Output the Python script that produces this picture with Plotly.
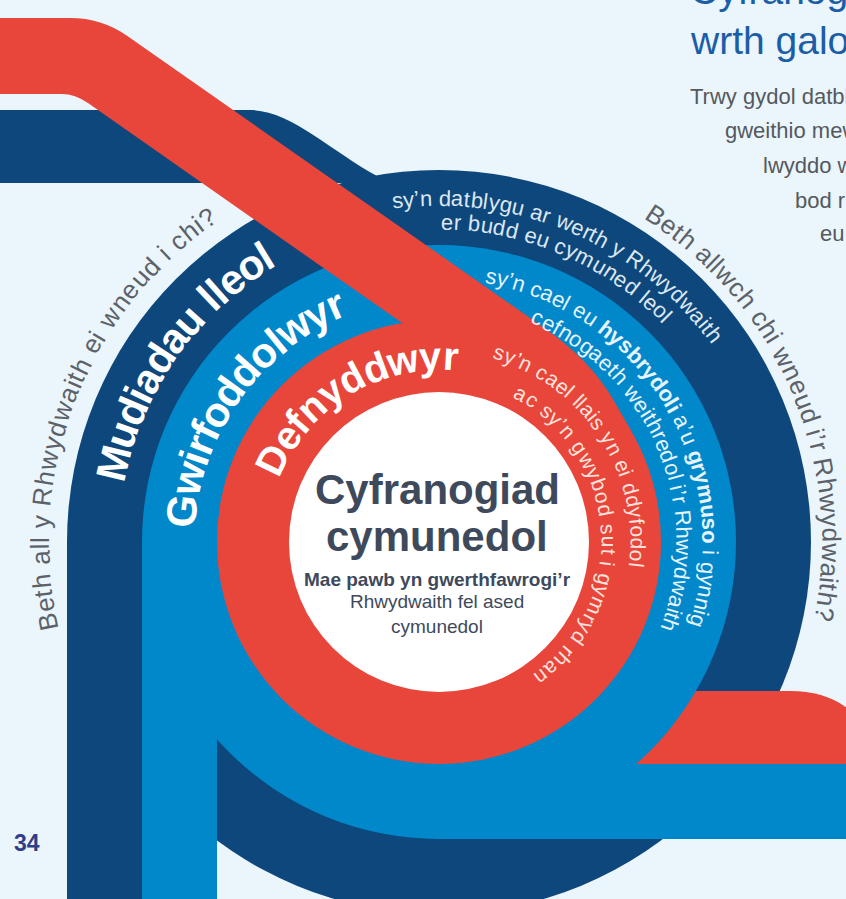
import math
import plotly.graph_objects as go

# ---------------- content ----------------
RING_NAMES = ["Mudiadau lleol", "Gwirfoddolwyr", "Defnyddwyr"]
RING_DESC_OUTER = [
    [("sy’n datblygu ar werth y Rhwydwaith", False)],
    [("sy’n cael eu ", False), ("hysbrydoli", True), (" a’u ", False),
     ("grymuso", True), (" i gynnig", False)],
    [("sy’n cael llais yn ei ddyfodol", False)],
]
RING_DESC_INNER = [
    "er budd eu cymuned leol",
    "cefnogaeth weithredol i’r Rhwydwaith",
    "ac sy’n gwybod sut i gymryd rhan",
]
OUTER_QUESTIONS = [
    "Beth all y Rhwydwaith ei wneud i chi?",
    "Beth allwch chi wneud i’r Rhwydwaith?",
]
CENTER_TITLE = ["Cyfranogiad", "cymunedol"]
CENTER_SUB_BOLD = "Mae pawb yn gwerthfawrogi’r"
CENTER_SUB = ["Rhwydwaith fel ased", "cymunedol"]
HEADING = ["Cyfranogiad cymunedol", "wrth galon y Rhwydwaith"]
BODY = ["Trwy gydol datblygiad y", "gweithio mewn", "lwyddo wrth", "bod rhaid", "eu cymunedau"]
PAGE_NUMBER = "34"

# ---------------- style / geometry ----------------
W, H = 846, 899
BG = "#eaf5fc"
NAVY = "#0e477c"
BLUE = "#0088cb"
RED = "#e8463b"
WHITE = "#ffffff"
FONT = "Liberation Sans, Arial, sans-serif"

CX, CY = 439, 542
R_NAVY, R_BLUE, R_RED, R_WHITE = 372, 297, 222, 150

REG_W = {' ': 278, '’': 222, '?': 556, 'a': 556, 'b': 556, 'c': 500, 'd': 556,
         'e': 556, 'f': 278, 'g': 556, 'h': 556, 'i': 222, 'l': 222, 'm': 833,
         'n': 556, 'o': 556, 'r': 333, 's': 500, 't': 278, 'u': 556, 'w': 722,
         'y': 500, 'B': 667, 'R': 722}
BOLD_W = {' ': 278, '’': 278, 'a': 556, 'b': 611, 'd': 611, 'e': 556, 'f': 333,
          'g': 611, 'h': 611, 'i': 278, 'l': 278, 'm': 889, 'n': 611, 'o': 611,
          'r': 389, 's': 556, 'u': 611, 'w': 778, 'y': 556, 'D': 722, 'G': 778,
          'M': 833, 'p': 611}


def arc_text(segments, r, a0, a1, size, color):
    """Lay characters along a circle (clockwise, tops outward)."""
    chars = []
    for text, bold in segments:
        for ch in text:
            w = (BOLD_W if bold else REG_W).get(ch, 556)
            chars.append((ch, bold, w))
    cum, centers = 0, []
    for _, _, w in chars:
        centers.append(cum + w / 2)
        cum += w
    c0, c1 = centers[0], centers[-1]
    out = []
    for (ch, bold, _), c in zip(chars, centers):
        if ch == ' ':
            continue
        th = a0 + (c - c0) / (c1 - c0) * (a1 - a0)
        t = math.radians(th)
        out.append(dict(
            x=CX + r * math.cos(t), y=CY - r * math.sin(t), xref="x", yref="y",
            text=f"<b>{ch}</b>" if bold else ch, showarrow=False,
            textangle=90 - th, xanchor="center", yanchor="middle",
            font=dict(size=size, color=color, family=FONT)))
    return out


def circle(r, color):
    return dict(type="circle", xref="x", yref="y", x0=CX - r, x1=CX + r,
                y0=CY - r, y1=CY + r, fillcolor=color, line=dict(width=0), layer="above")


def rect(x0, x1, y0, y1, color):
    return dict(type="rect", xref="x", yref="y", x0=x0, x1=x1, y0=y0, y1=y1,
                fillcolor=color, line=dict(width=0), layer="above")


def path(d, color):
    return dict(type="path", xref="x", yref="y", path=d, fillcolor=color,
                line=dict(width=0), layer="above")


shapes = [
    circle(R_NAVY, NAVY),
    rect(CX - R_NAVY, CX - R_BLUE, CY, H + 10, NAVY),
    path("M -10,110 L 250,110 C 290,110 330,150 377,176 L 390,190 L 342,183 L -10,183 Z", NAVY),
    path("M 600,691 L 790,691 Q 835,691 860,720 L 860,770 L 600,770 Z", RED),
    circle(R_BLUE, BLUE),
    rect(CX - R_BLUE, CX - R_RED, CY, H + 10, BLUE),
    rect(CX, W + 10, CY + R_RED, CY + R_BLUE, BLUE),
    path("M -10,18 L 70,18 Q 101.6,18 127,35.8 L 545,328.4 Q 590.4,360.2 612.9,399.1 "
         "L 631.3,431 L 500,450 L 450,356.5 L 88,103.1 Q 74.9,94 62,94 L -10,94 Z", RED),
    circle(R_RED, RED),
    circle(R_WHITE, WHITE),
]

ann = []
# outer grey questions
ann += arc_text([(OUTER_QUESTIONS[0], False)], 399, 191.6, 125.6, 26, "#5d6269")
ann += arc_text([(OUTER_QUESTIONS[1], False)], 392, 56.5, -10.6, 26, "#5d6269")
# ring names
ann += arc_text([(RING_NAMES[0], True)], 335, 166.4, 121.3, 42, WHITE)
ann += arc_text([(RING_NAMES[1], True)], 259, 173.0, 113.7, 42, WHITE)
ann += arc_text([(RING_NAMES[2], True)], 186, 153.8, 86.3, 40, WHITE)
# ring descriptions
ann += arc_text(RING_DESC_OUTER[0], 344, 97.0, 37.0, 22, "#dce7f1")
ann += arc_text([(RING_DESC_INNER[0], False)], 320, 88.6, 44.6, 22, "#dce7f1")
ann += arc_text(RING_DESC_OUTER[1], 271, 78.8, -17.0, 22, "#e6f4fc")
ann += arc_text([(RING_DESC_INNER[1], False)], 245, 66.2, -19.9, 22, "#e6f4fc")
ann += arc_text(RING_DESC_OUTER[2], 199, 72.2, -6.7, 21, "#fde2dd")
ann += arc_text([(RING_DESC_INNER[2], False)], 170, 61.0, -52.8, 21, "#fde2dd")

CENTER_COL = "#3e4a5c"
ann += [
    dict(x=437, y=489, text=f"<b>{CENTER_TITLE[0]}</b>", font=dict(size=42, color=CENTER_COL, family=FONT)),
    dict(x=437, y=536, text=f"<b>{CENTER_TITLE[1]}</b>", font=dict(size=42, color=CENTER_COL, family=FONT)),
    dict(x=437, y=579, text=f"<b>{CENTER_SUB_BOLD}</b>", font=dict(size=19, color=CENTER_COL, family=FONT)),
    dict(x=437, y=601, text=CENTER_SUB[0], font=dict(size=19, color=CENTER_COL, family=FONT)),
    dict(x=437, y=626, text=CENTER_SUB[1], font=dict(size=19, color=CENTER_COL, family=FONT)),
]
for a in ann[-5:]:
    a.update(xref="x", yref="y", showarrow=False, xanchor="center", yanchor="middle")

# heading & body top right
HEAD_COL = "#1b5da6"
ann.append(dict(x=688, y=14, xref="x", yref="y", text=HEADING[0], showarrow=False,
                xanchor="left", yanchor="bottom", font=dict(size=39, color=HEAD_COL, family=FONT)))
ann.append(dict(x=688, y=40, xref="x", yref="y", text=HEADING[1], showarrow=False,
                xanchor="left", yanchor="middle", font=dict(size=39, color=HEAD_COL, family=FONT)))
body_x = [688, 723, 761, 793, 818]
body_base = [103, 137, 172, 207, 240]
for txt, bx, by in zip(BODY, body_x, body_base):
    ann.append(dict(x=bx, y=by - 7, xref="x", yref="y", text=txt, showarrow=False,
                    xanchor="left", yanchor="middle", font=dict(size=22, color="#55595e", family=FONT)))

ann.append(dict(x=27, y=843, xref="x", yref="y", text=f"<b>{PAGE_NUMBER}</b>", showarrow=False,
                xanchor="center", yanchor="middle", font=dict(size=23, color="#2f3d8a", family=FONT)))

fig = go.Figure()
fig.update_layout(
    width=W, height=H, margin=dict(l=0, r=0, t=0, b=0),
    paper_bgcolor=BG, plot_bgcolor=BG, showlegend=False,
    xaxis=dict(range=[0, W], visible=False, fixedrange=True),
    yaxis=dict(range=[H, 0], visible=False, fixedrange=True),
    shapes=shapes, annotations=ann,
)
fig.write_html(
    "out.html",
    config={"displayModeBar": False},
    post_script="document.body.style.margin='0';document.body.style.overflow='hidden';"
                "document.body.style.background='" + BG + "';",
)
